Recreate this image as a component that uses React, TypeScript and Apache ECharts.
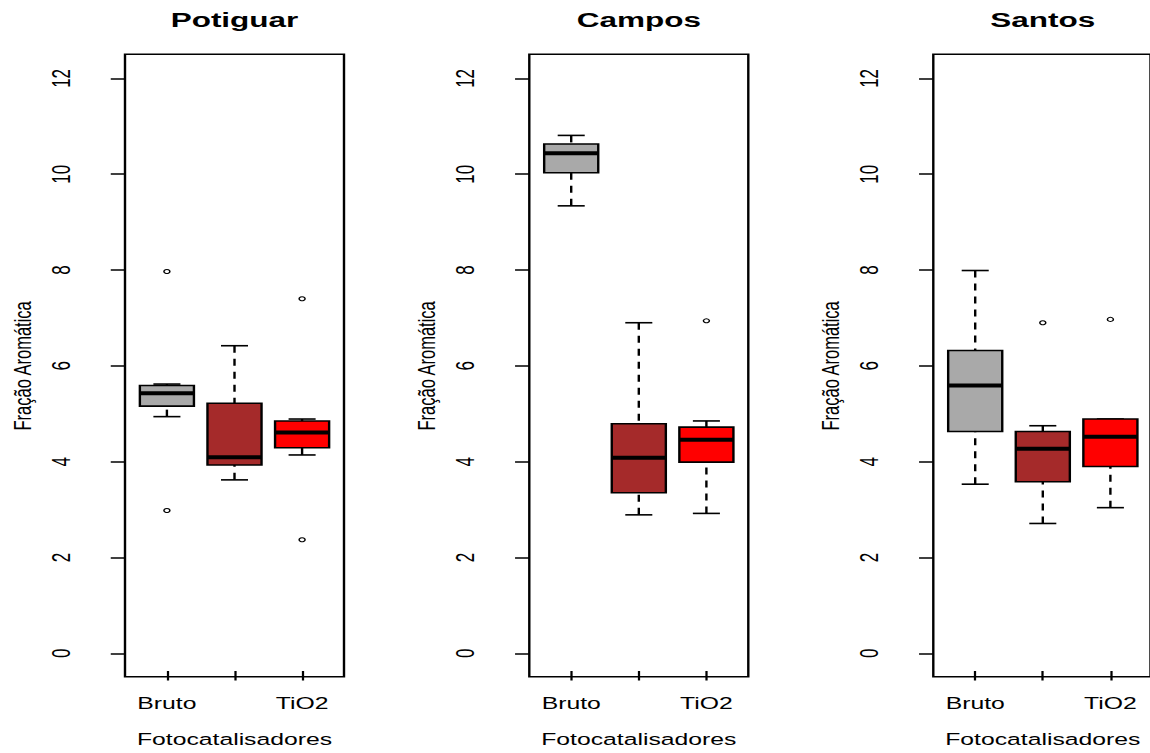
import React, { useEffect, useRef } from "react";
import * as echarts from "echarts";

// ---- data ----
const basins = ["Potiguar", "Campos", "Santos"];
const groups = ["Bruto", "", "TiO2"];
const groupColors = ["#A9A9A9", "#A52A2A", "#FF0000"];
const yTicks = [0, 2, 4, 6, 8, 10, 12];
const xTitle = "Fotocatalisadores";
const yTitle = "Fração Aromática";

// five-number summaries: [lower whisker, Q1, median, Q3, upper whisker]
const potiguarStats = [
  [4.94, 5.16, 5.43, 5.59, 5.62],
  [3.62, 3.93, 4.09, 5.22, 6.42],
  [4.14, 4.29, 4.61, 4.85, 4.89],
];
const camposStats = [
  [9.34, 10.03, 10.44, 10.63, 10.81],
  [2.89, 3.35, 4.08, 4.79, 6.9],
  [2.92, 3.99, 4.46, 4.72, 4.85],
];
const santosStats = [
  [3.53, 4.63, 5.59, 6.32, 7.99],
  [2.71, 3.58, 4.27, 4.63, 4.75],
  [3.04, 3.9, 4.52, 4.89, 4.89],
];
// outliers: [group index, value]
const potiguarOutliers = [[0, 7.97], [0, 2.98], [2, 7.4], [2, 2.37]];
const camposOutliers = [[2, 6.94]];
const santosOutliers = [[1, 6.9], [2, 6.97]];

const allStats = [potiguarStats, camposStats, santosStats];
const allOutliers = [potiguarOutliers, camposOutliers, santosOutliers];

// ---- layout (reference is horizontally stretched) ----
const K = 1.5;
const OUTER_W = 1150;
const H = 753;
const INNER_W = OUTER_W / K;
const PANEL_LEFT = [125, 529.3, 933.3].map((v) => v / K);
const FRAME_W = 219 / K;
const FRAME_TOP = 54.3;
const FRAME_BOTTOM = 676.8;
const DATA_TOP = 78.4;
const DATA_BOTTOM = 653.3;
const FONT = "'Liberation Sans', Arial, sans-serif";

function renderBox(params: any, api: any) {
  const k = api.value(0);
  const lo = api.coord([k, api.value(1)]);
  const q1 = api.coord([k, api.value(2)]);
  const md = api.coord([k, api.value(3)]);
  const q3 = api.coord([k, api.value(4)]);
  const hi = api.coord([k, api.value(5)]);
  const band = api.size([1, 0])[0];
  const bw = band * 0.8;
  const sw = bw * 0.5;
  const cx = lo[0];
  const line = { stroke: "#000", lineWidth: 1.6 };
  const dash = { stroke: "#000", lineWidth: 1.6, lineDash: [7, 6] };
  return {
    type: "group",
    children: [
      { type: "line", shape: { x1: cx, y1: hi[1], x2: cx, y2: q3[1] }, style: dash },
      { type: "line", shape: { x1: cx, y1: lo[1], x2: cx, y2: q1[1] }, style: dash },
      { type: "line", shape: { x1: cx - sw / 2, y1: hi[1], x2: cx + sw / 2, y2: hi[1] }, style: line },
      { type: "line", shape: { x1: cx - sw / 2, y1: lo[1], x2: cx + sw / 2, y2: lo[1] }, style: line },
      {
        type: "rect",
        shape: { x: cx - bw / 2, y: q3[1], width: bw, height: q1[1] - q3[1] },
        style: { fill: groupColors[k], stroke: "#000", lineWidth: 1.6 },
      },
      {
        type: "line",
        shape: { x1: cx - bw / 2, y1: md[1], x2: cx + bw / 2, y2: md[1] },
        style: { stroke: "#000", lineWidth: 4 },
      },
    ],
  };
}

export default function App() {
  const ref = useRef<HTMLDivElement>(null);
  useEffect(() => {
    if (!ref.current) return;
    const chart = echarts.init(ref.current, null, { renderer: "svg" });
    const grid: any[] = [];
    const xAxis: any[] = [];
    const yAxis: any[] = [];
    const series: any[] = [];
    const graphic: any[] = [];
    const u = FRAME_W / 3.24;
    const tickStyle = { color: "#000", width: 1.5 };
    const labelStyle = { color: "#000", fontSize: 16.5, fontFamily: FONT };

    basins.forEach((b, i) => {
      const L = PANEL_LEFT[i];
      const dl = L + 0.62 * u - u / 2;
      const g = 3 * i;
      // frame grid (plot border)
      grid.push({
        left: L,
        top: FRAME_TOP,
        width: FRAME_W,
        height: FRAME_BOTTOM - FRAME_TOP,
        show: true,
        borderColor: "#000",
        borderWidth: 1.6,
        backgroundColor: "transparent",
      });
      xAxis.push({ type: "value", gridIndex: g, show: false });
      yAxis.push({ type: "value", gridIndex: g, show: false });
      // category x axis grid (spans frame height, data width)
      grid.push({
        left: dl,
        top: FRAME_TOP,
        width: 3 * u,
        height: FRAME_BOTTOM - FRAME_TOP,
        show: false,
      });
      xAxis.push({
        type: "category",
        gridIndex: g + 1,
        data: groups,
        position: "bottom",
        axisLine: { show: false },
        axisTick: { show: true, inside: false, alignWithLabel: true, length: 9.5, lineStyle: tickStyle },
        axisLabel: { interval: 0, margin: 24, ...labelStyle },
        splitLine: { show: false },
        name: xTitle,
        nameLocation: "middle",
        nameGap: 60,
        nameTextStyle: { ...labelStyle },
      });
      yAxis.push({ type: "value", gridIndex: g + 1, show: false });
      // data grid
      grid.push({
        left: dl,
        top: DATA_TOP,
        width: 3 * u,
        height: DATA_BOTTOM - DATA_TOP,
        show: false,
      });
      xAxis.push({ type: "category", gridIndex: g + 2, data: groups, show: false });
      yAxis.push({
        type: "value",
        gridIndex: g + 2,
        min: yTicks[0],
        max: yTicks[yTicks.length - 1],
        interval: yTicks[1] - yTicks[0],
        position: "left",
        offset: dl - L,
        axisLine: { show: false },
        axisTick: { show: true, inside: false, length: 9.5, lineStyle: tickStyle },
        axisLabel: { rotate: 90, margin: 34, ...labelStyle, fontSize: 17 },
        splitLine: { show: false },
        name: yTitle,
        nameLocation: "middle",
        nameRotate: 90,
        nameGap: 60,
        nameTextStyle: { ...labelStyle },
      });
      series.push({
        type: "custom",
        xAxisIndex: g + 2,
        yAxisIndex: g + 2,
        data: allStats[i].map((s, k) => [k, ...s]),
        encode: { x: 0, y: [1, 2, 3, 4, 5] },
        renderItem: renderBox,
        clip: false,
      });
      series.push({
        type: "scatter",
        xAxisIndex: g + 2,
        yAxisIndex: g + 2,
        data: allOutliers[i],
        symbol: "circle",
        symbolSize: 4,
        itemStyle: { color: "#fff", borderColor: "#000", borderWidth: 1, opacity: 1 },
      });
      graphic.push({
        type: "text",
        x: L + FRAME_W / 2,
        y: 19.8,
        style: {
          text: b,
          fill: "#000",
          fontSize: 21,
          fontWeight: "bold",
          fontFamily: FONT,
          align: "center",
          verticalAlign: "middle",
          textAlign: "center",
          textVerticalAlign: "middle",
        },
      });
    });

    chart.setOption({
      animation: false,
      backgroundColor: "#fff",
      grid,
      xAxis,
      yAxis,
      series,
      graphic,
    });
    return () => chart.dispose();
  }, []);

  return (
    <div
      style={{
        position: "fixed",
        left: 0,
        top: 0,
        width: OUTER_W,
        height: H,
        overflow: "hidden",
        background: "#fff",
      }}
    >
      <div
        ref={ref}
        style={{
          width: INNER_W,
          height: H,
          transform: `scaleX(${K})`,
          transformOrigin: "0 0",
        }}
      />
    </div>
  );
}
